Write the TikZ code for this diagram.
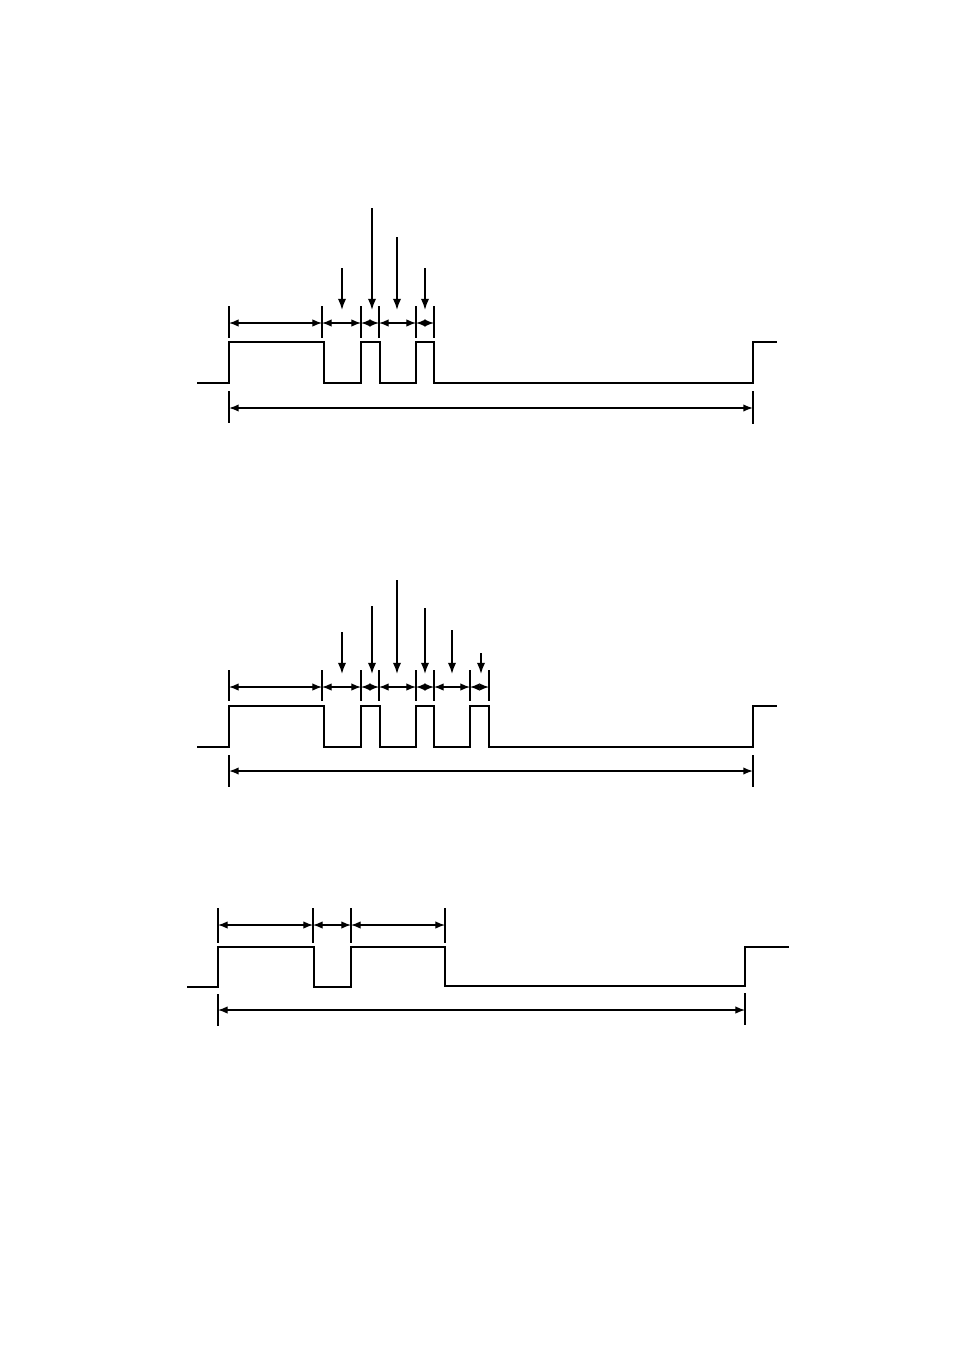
\documentclass[tikz,border=0pt]{standalone}
\usetikzlibrary{arrows.meta}
\begin{document}
\begin{tikzpicture}[x=0.6238pt,y=-0.6238pt,
  wave/.style={line width=1.1pt,line join=miter},
  tickline/.style={line width=1.1pt},
  dimline/.style={line width=0.7pt,{Latex[length=6pt,width=4.6pt]}-{Latex[length=6pt,width=4.6pt]}},
  pointer/.style={line width=1.0pt,-{Latex[length=7pt,width=5.2pt]}}]
\useasboundingbox (0,0) rectangle (954,1351);

% ---------- Panel 1 ----------
\draw[wave] (197,383) -- (229,383) -- (229,342) -- (324,342) -- (324,383) -- (361,383) -- (361,342) -- (380,342) -- (380,383) -- (416,383) -- (416,342) -- (434,342) -- (434,383) -- (753,383) -- (753,342) -- (777,342);
\foreach \x/\n in {229/a,322/b,361/c,379/d,416/e,434/f}{
  \draw[tickline] (\x,306) -- (\x,338);
  \coordinate (p1\n) at (\x,323);
}
\draw[dimline] (p1a) -- (p1b);
\draw[dimline] (p1b) -- (p1c);
\draw[dimline] (p1c) -- (p1d);
\draw[dimline] (p1d) -- (p1e);
\draw[dimline] (p1e) -- (p1f);
\foreach \x/\y in {342/268,372/208,397/237,425/268}{
  \coordinate (s) at (\x,\y); \coordinate (t) at (\x,310);
  \draw[pointer] (s) -- (t);
}
\draw[tickline] (229,391) -- (229,423);
\draw[tickline] (753,391) -- (753,424);
\coordinate (q1a) at (229,408); \coordinate (q1b) at (753,408);
\draw[dimline,line width=1pt] (q1a) -- (q1b);

% ---------- Panel 2 ----------
\draw[wave] (197,747) -- (229,747) -- (229,706) -- (324,706) -- (324,747) -- (361,747) -- (361,706) -- (380,706) -- (380,747) -- (416,747) -- (416,706) -- (434,706) -- (434,747) -- (470,747) -- (470,706) -- (489,706) -- (489,747) -- (753,747) -- (753,706) -- (777,706);
\foreach \x/\n in {229/a,322/b,361/c,379/d,416/e,434/f,470/g,489/h}{
  \draw[tickline] (\x,670) -- (\x,701);
  \coordinate (p2\n) at (\x,687);
}
\draw[dimline] (p2a) -- (p2b);
\draw[dimline] (p2b) -- (p2c);
\draw[dimline] (p2c) -- (p2d);
\draw[dimline] (p2d) -- (p2e);
\draw[dimline] (p2e) -- (p2f);
\draw[dimline] (p2f) -- (p2g);
\draw[dimline] (p2g) -- (p2h);
\foreach \x/\y in {342/632,372/606,397/580,425/608,452/630,481/653}{
  \coordinate (s) at (\x,\y); \coordinate (t) at (\x,674);
  \draw[pointer] (s) -- (t);
}
\draw[tickline] (229,755) -- (229,787);
\draw[tickline] (753,755) -- (753,787);
\coordinate (q2a) at (229,771); \coordinate (q2b) at (753,771);
\draw[dimline,line width=1pt] (q2a) -- (q2b);

% ---------- Panel 3 ----------
\draw[wave] (187,987) -- (218,987) -- (218,947) -- (314,947) -- (314,987) -- (351,987) -- (351,947) -- (445,947) -- (445,986) -- (745,986) -- (745,947) -- (789,947);
\foreach \x/\n in {218/a,313/b,351/c,445/d}{
  \draw[tickline] (\x,908) -- (\x,943);
  \coordinate (p3\n) at (\x,925);
}
\draw[dimline] (p3a) -- (p3b);
\draw[dimline] (p3b) -- (p3c);
\draw[dimline] (p3c) -- (p3d);
\draw[tickline] (218,994) -- (218,1026);
\draw[tickline] (745,993) -- (745,1025);
\coordinate (q3a) at (218,1010); \coordinate (q3b) at (745,1010);
\draw[dimline] (q3a) -- (q3b);
\end{tikzpicture}
\end{document}
